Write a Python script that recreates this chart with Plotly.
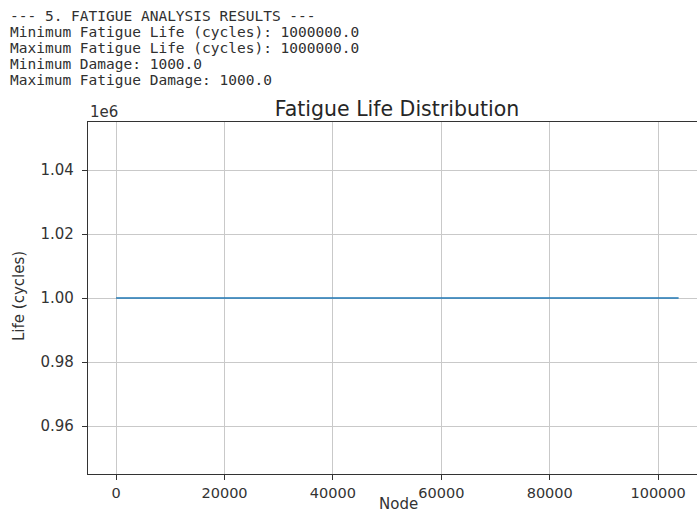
import plotly.graph_objects as go

# ---- data ----
nodes = [0, 103780]
life_cycles = [1000000.0, 1000000.0]

x_tick_vals = [0, 20000, 40000, 60000, 80000, 100000]
x_tick_text = ["0", "20000", "40000", "60000", "80000", "100000"]
y_tick_vals = [960000, 980000, 1000000, 1020000, 1040000]
y_tick_text = ["0.96", "0.98", "1.00", "1.02", "1.04"]

header_lines = [
    "--- 5. FATIGUE ANALYSIS RESULTS ---",
    "Minimum Fatigue Life (cycles): 1000000.0",
    "Maximum Fatigue Life (cycles): 1000000.0",
    "Minimum Damage: 1000.0",
    "Maximum Fatigue Damage: 1000.0",
]
title_text = "Fatigue Life Distribution"
x_label = "Node"
y_label = "Life (cycles)"
offset_text = "1e6"

# ---- layout geometry ----
W, H = 697, 512
L, T, B, R = 88, 122, 38, 0
plot_w = W - L - R
plot_h = H - T - B

x_min = -0.05 * nodes[-1]
px_per_unit = 108.4 / 20000
x_max = x_min + plot_w / px_per_unit
y_range = [945000, 1055000]

TXT = "#333333"
SPINE = "#333333"
GRID = "#c9c9c9"

fig = go.Figure()
fig.add_trace(go.Scatter(x=nodes, y=life_cycles, mode="lines",
                         line=dict(color="#1f77b4", width=1.6),
                         hoverinfo="skip", showlegend=False))

fig.update_layout(
    width=W, height=H,
    margin=dict(l=L, r=R, t=T, b=B, autoexpand=False),
    paper_bgcolor="white", plot_bgcolor="white",
    font=dict(family="DejaVu Sans", color=TXT, size=15),
    title=dict(text=title_text, x=397 / W, xref="container", xanchor="center",
               y=1 - 109 / H, yref="container", yanchor="middle",
               font=dict(family="DejaVu Sans", size=20.5, color="#262626")),
    showlegend=False,
)
fig.update_xaxes(
    range=[x_min, x_max], tickvals=x_tick_vals, ticktext=x_tick_text,
    showgrid=True, gridcolor=GRID, gridwidth=1, zeroline=False,
    showline=True, linecolor=SPINE, linewidth=1.3, mirror=True,
    ticks="outside", ticklen=5, tickwidth=1.2, tickcolor=SPINE,
    tickfont=dict(size=14.5, color=TXT),
)
fig.update_yaxes(
    range=y_range, tickvals=y_tick_vals, ticktext=y_tick_text,
    showgrid=True, gridcolor=GRID, gridwidth=1, zeroline=False,
    showline=True, linecolor=SPINE, linewidth=1.3, mirror=False,
    ticks="outside", ticklen=5, tickwidth=1.2, tickcolor=SPINE,
    tickfont=dict(size=15, color=TXT), ticklabelstandoff=5,
)

ann = []
ann.append(dict(text=offset_text, xref="paper", yref="paper", x=0, y=1,
                xanchor="left", yanchor="bottom", yshift=-1, showarrow=False,
                font=dict(size=15, color=TXT)))
ann.append(dict(text=x_label, xref="x domain", yref="paper", x=(398 - L) / plot_w,
                y=(H - B - 504) / plot_h, xanchor="center", yanchor="middle",
                showarrow=False, font=dict(size=15, color=TXT)))
ann.append(dict(text=y_label, xref="paper", yref="paper", x=(19 - L) / plot_w,
                y=(H - B - 296) / plot_h, xanchor="center", yanchor="middle",
                textangle=-90, showarrow=False, font=dict(size=15, color=TXT)))
line_y = [16, 32, 48, 64, 80]
for txt, yy in zip(header_lines, line_y):
    ann.append(dict(text=txt, xref="paper", yref="paper",
                    x=(8 - L) / plot_w, y=(H - B - yy) / plot_h,
                    xanchor="left", yanchor="middle", showarrow=False,
                    font=dict(family="DejaVu Sans Mono", size=14.5, color="#303030")))
fig.update_layout(annotations=ann)

fig.write_html("out.html", config={"displayModeBar": False},
               post_script="document.body.style.margin='0';document.body.style.overflow='hidden';")
